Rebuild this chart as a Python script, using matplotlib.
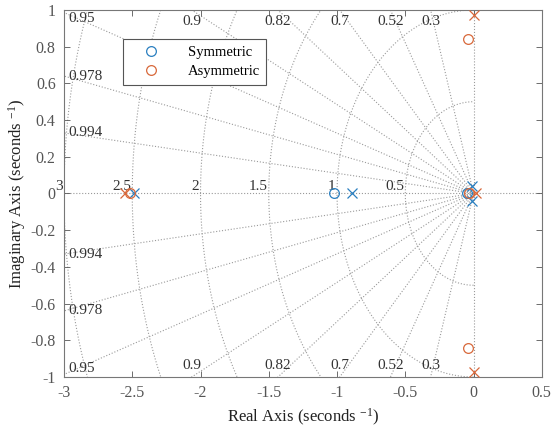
import numpy as np
import matplotlib
matplotlib.use("Agg")
import matplotlib.pyplot as plt
from matplotlib.lines import Line2D

plt.rcParams['font.family'] = ['Liberation Serif', 'DejaVu Serif']
plt.rcParams['mathtext.fontset'] = 'custom'
plt.rcParams['mathtext.rm'] = 'Liberation Serif'
plt.rcParams['mathtext.it'] = 'Liberation Serif'

# Data
sym_zeros_re = [-1.02, -0.05]
sym_zeros_im = [0.0, 0.0]
sym_poles_re = [-2.49, -0.89, -0.015, -0.015]
sym_poles_im = [0.0, 0.0, 0.04, -0.04]
asym_zeros_re = [-2.52, -0.04, -0.04, -0.03]
asym_zeros_im = [0.0, 0.84, -0.84, 0.0]
asym_poles_re = [-2.55, 0.02, 0.0, 0.0]
asym_poles_im = [0.0, 0.0, 0.97, -0.97]

zetas = [0.3, 0.52, 0.7, 0.82, 0.9, 0.95, 0.978, 0.994]
wns = [0.5, 1.0, 1.5, 2.0, 2.5, 3.0]
wn_labels = ['0.5', '1', '1.5', '2', '2.5', '3']
xticks = [-3, -2.5, -2, -1.5, -1, -0.5, 0, 0.5]
yticks = [-1, -0.8, -0.6, -0.4, -0.2, 0, 0.2, 0.4, 0.6, 0.8, 1]

blue = '#2a7fc0'
orange = '#d8683a'
gridc = '#9a9a9a'
txtc = '#333333'

fig = plt.figure(figsize=(5.54, 4.33), dpi=100)
ax = fig.add_axes([0.1155, 0.1293, 0.8625, 0.8477])
xmin, xmax, ymin, ymax = -3, 0.5, -1, 1
ax.set_xlim(xmin, xmax)
ax.set_ylim(ymin, ymax)

# grid: damping lines
R = 5
for z in zetas:
    s = np.sqrt(1 - z**2)
    ax.plot([0, -z * R], [0, s * R], ls=':', color=gridc, lw=0.8, zorder=1)
    ax.plot([0, -z * R], [0, -s * R], ls=':', color=gridc, lw=0.8, zorder=1)
# grid: natural frequency semicircles
th = np.linspace(-np.pi / 2, np.pi / 2, 400)
for wn in wns:
    ax.plot(-wn * np.cos(th), wn * np.sin(th), ls=':', color=gridc, lw=0.8, zorder=1)
ax.axhline(0, ls=':', color=gridc, lw=0.8, zorder=1)
ax.axvline(0, ls=':', color=gridc, lw=0.8, zorder=1)

# damping labels
gfs = 11
for z in zetas:
    s = np.sqrt(1 - z**2)
    xt = -z / s
    lab = f'{z:g}'
    if xt >= xmin:
        ax.text(xt, 0.975, lab, ha='center', va='top', fontsize=gfs, color=txtc)
        ax.text(xt, -0.975, lab, ha='center', va='bottom', fontsize=gfs, color=txtc)
    else:
        yt = min(-xmin * s / z, 0.955)
        ax.text(xmin + 0.03, yt, lab, ha='left', va='center', fontsize=gfs, color=txtc)
        ax.text(xmin + 0.03, -yt, lab, ha='left', va='center', fontsize=gfs, color=txtc)

# wn labels
for wn, lab in zip(wns, wn_labels):
    ax.text(-wn - 0.01, 0.005, lab, ha='right', va='bottom', fontsize=gfs,
            color=txtc, clip_on=False)

# poles and zeros
ms = 7
ax.plot(sym_zeros_re, sym_zeros_im, 'o', mfc='none', mec=blue, ms=ms, mew=0.9, zorder=3)
ax.plot(sym_poles_re, sym_poles_im, 'x', color=blue, ms=ms, mew=0.9, zorder=3)
ax.plot(asym_zeros_re, asym_zeros_im, 'o', mfc='none', mec=orange, ms=ms, mew=0.9, zorder=3)
ax.plot(asym_poles_re, asym_poles_im, 'x', color=orange, ms=ms, mew=0.9, zorder=3)

ax.set_xticks(xticks)
ax.set_xticklabels([f'{t:g}' for t in xticks])
ax.set_yticks(yticks)
ax.set_yticklabels([f'{t:g}' for t in yticks])
ax.tick_params(direction='in', top=True, right=True, labelsize=11.5,
               colors='#555555', length=4, width=0.6, pad=6)
for sp in ax.spines.values():
    sp.set_color('#777777')
    sp.set_linewidth(0.8)

ax.set_xlabel('Real Axis (seconds $^{-1}$)', fontsize=12, color='#222222', labelpad=4)
ax.set_ylabel('Imaginary Axis (seconds $^{-1}$)', fontsize=12, color='#222222', labelpad=2)

handles = [Line2D([], [], ls='none', marker='o', mfc='none', mec=blue, ms=ms, mew=0.9),
           Line2D([], [], ls='none', marker='o', mfc='none', mec=orange, ms=ms, mew=0.9)]
leg = ax.legend(handles, ['Symmetric', 'Asymmetric'], loc='upper left',
                bbox_to_anchor=(0.123, 0.921), fontsize=10.5, fancybox=False,
                framealpha=1, edgecolor='#555555', borderpad=0.45, handletextpad=1.0,
                labelspacing=0.45, handlelength=3.0, borderaxespad=0)
leg.get_frame().set_linewidth(0.8)

fig.savefig('out.png', dpi=100)
